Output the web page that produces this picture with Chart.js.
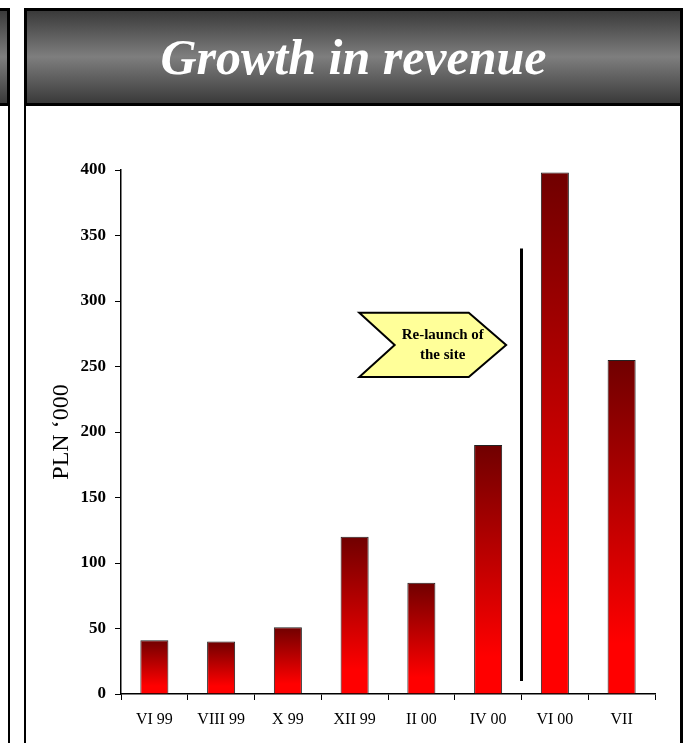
<!DOCTYPE html>
<html><head><meta charset="utf-8">
<script src="https://cdn.jsdelivr.net/npm/chart.js@4.4.1/dist/chart.umd.min.js"></script>
<style>
html,body{margin:0;padding:0;background:#fff;}
body{width:684px;height:743px;position:relative;overflow:hidden;font-family:"Liberation Serif","Times New Roman",serif;}
.hdr{position:absolute;background:linear-gradient(to bottom,#3a3a3a 0%,#7e7e7e 50%,#3a3a3a 100%);border:3px solid #000;box-sizing:border-box;}
.vline{position:absolute;background:#000;}
#title{position:absolute;left:0;right:0;top:0;bottom:0;text-align:center;color:#fff;font:italic bold 50px "Liberation Serif","Times New Roman",serif;line-height:92px;}
#wrap{position:absolute;left:26px;top:106px;width:654px;height:637px;}
</style></head>
<body>
<div class="hdr" style="left:-3px;top:8px;width:13px;height:98px;"></div>
<div class="vline" style="left:8px;top:106px;width:2px;height:637px;"></div>
<div class="hdr" style="left:24px;top:8px;width:659px;height:98px;"><div id="title">Growth in revenue</div></div>
<div class="vline" style="left:24px;top:106px;width:2px;height:637px;"></div>
<div class="vline" style="left:680px;top:106px;width:3px;height:637px;"></div>
<div id="wrap"><canvas id="c" width="654" height="637"></canvas></div>
<script>
const categories = ['VI 99','VIII 99','X 99','XII 99','II 00','IV 00','VI 00','VII'];
const revenue = [41, 40, 51, 120, 85, 190, 398, 255];
const yTickValues = [0, 50, 100, 150, 200, 250, 300, 350, 400];
const axisTitle = 'PLN \u2018000';
const calloutLines = ['Re-launch of', 'the site'];

const serif = '"Liberation Serif","Times New Roman",serif';

function barGradient(c) {
  const chart = c.chart;
  const {ctx, chartArea, scales} = chart;
  if (!chartArea || c.type !== 'data') return '#c00000';
  const top = scales.y.getPixelForValue(c.raw);
  const bottom = scales.y.getPixelForValue(0);
  const g = ctx.createLinearGradient(0, top, 0, bottom);
  g.addColorStop(0, '#700000');
  g.addColorStop(0.85, '#ff0000');
  g.addColorStop(1, '#ff0000');
  return g;
}

const annotations = {
  id: 'annotations',
  afterDatasetsDraw(chart) {
    const {ctx, scales: {x, y}} = chart;
    ctx.save();
    const lx = (x.getPixelForValue(5) + x.getPixelForValue(6)) / 2;
    ctx.strokeStyle = '#000';
    ctx.lineWidth = 3;
    ctx.beginPath();
    ctx.moveTo(lx, y.getPixelForValue(340));
    ctx.lineTo(lx, y.getPixelForValue(10));
    ctx.stroke();
    const step = x.getPixelForValue(1) - x.getPixelForValue(0);
    const px = v => x.getPixelForValue(0) + v * step;
    const L = px(3.07), TR = px(4.71), P = px(5.27), N = px(3.60);
    const T = y.getPixelForValue(291), B = y.getPixelForValue(242), M = y.getPixelForValue(266.5);
    ctx.beginPath();
    ctx.moveTo(L, T); ctx.lineTo(TR, T); ctx.lineTo(P, M); ctx.lineTo(TR, B);
    ctx.lineTo(L, B); ctx.lineTo(N, M); ctx.closePath();
    ctx.fillStyle = '#ffff99';
    ctx.fill();
    ctx.lineWidth = 2;
    ctx.lineJoin = 'miter';
    ctx.stroke();
    ctx.fillStyle = '#000';
    ctx.font = 'bold 15px ' + serif;
    ctx.textAlign = 'center';
    ctx.textBaseline = 'middle';
    const cx = px(4.32);
    ctx.fillText(calloutLines[0], cx, M - 10);
    ctx.fillText(calloutLines[1], cx, M + 10);
    ctx.restore();
  }
};

new Chart(document.getElementById('c'), {
  type: 'bar',
  data: {
    labels: categories,
    datasets: [{
      data: revenue,
      backgroundColor: barGradient,
      borderColor: '#222',
      borderWidth: 1,
      borderSkipped: 'bottom',
      barPercentage: 0.42,
      categoryPercentage: 1
    }]
  },
  options: {
    responsive: false,
    animation: false,
    layout: {padding: {left: 0, top: 64, right: 25, bottom: 0}},
    plugins: {legend: {display: false}, tooltip: {enabled: false}},
    scales: {
      x: {
        offset: true,
        grid: {offset: true, drawOnChartArea: false, drawTicks: true, tickLength: 6, color: '#000', lineWidth: 1},
        border: {display: true, color: '#000', width: 1.5},
        ticks: {color: '#000', font: {family: serif, size: 16}, padding: 10, maxRotation: 0, autoSkip: false},
        afterFit(s) { s.height = 49; }
      },
      y: {
        min: 0, max: 400,
        afterBuildTicks(s) { s.ticks = yTickValues.map(v => ({value: v})); },
        grid: {drawOnChartArea: false, drawTicks: true, tickLength: 6, color: '#000', lineWidth: 1},
        border: {display: true, color: '#000', width: 1.5},
        ticks: {color: '#000', font: {family: serif, size: 17, weight: 'bold'}, padding: 9},
        title: {display: true, text: axisTitle, color: '#000', font: {family: serif, size: 24}, padding: {top: 21, bottom: 0}},
        afterFit(s) { s.width = 95; }
      }
    }
  },
  plugins: [annotations]
});
</script>
</body></html>
